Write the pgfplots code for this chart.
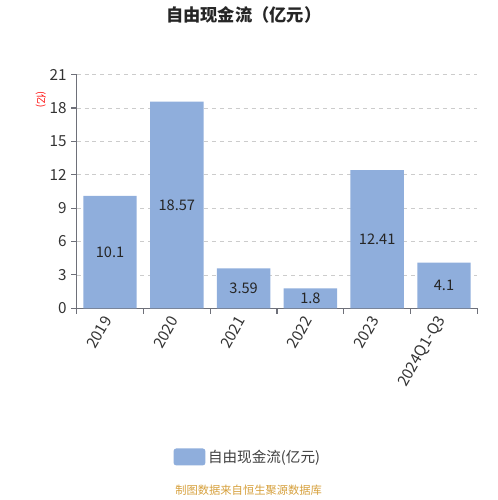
\documentclass[border=0pt]{standalone}
\usepackage{pgfplots}
\pgfplotsset{compat=1.18}
\usepackage{fontspec}
\setmainfont{Noto Sans CJK SC}
\definecolor{barblue}{RGB}{143,174,220}
\definecolor{axisgray}{RGB}{110,112,121}
\definecolor{gridgray}{RGB}{204,204,204}
\definecolor{srcorange}{RGB}{214,160,60}
\begin{document}
\begin{tikzpicture}[x=0.75pt,y=0.75pt]
  % page frame: 500x500 px
  \path (0,0) rectangle (500,500);
  \node[font=\bfseries\fontsize{13}{15}\selectfont, text=black!85] at (245,485) {自由现金流（亿元）};
  \node[text=red, rotate=-90, font=\fontsize{7.5}{9}\selectfont] at (41,400) {(亿)};
  \node[text=srcorange, font=\fontsize{8.5}{10}\selectfont] at (250,7) {制图数据来自恒生聚源数据库};
  \begin{axis}[
    at={(57.75pt,142.5pt)}, anchor=south west,
    scale only axis,
    width=302.25pt, height=176.25pt,
    xmin=-0.5, xmax=5.5,
    ymin=0, ymax=21,
    ytick={0,3,...,21},
    xtick={0,1,...,5},
    xticklabels={2019,2020,2021,2022,2023,2024Q1-Q3},
    minor xtick={-0.5,0.5,...,5.5},
    major x tick style={draw=none},
    minor tick length=4pt,
    major tick length=4pt,
    tick align=outside,
    tick pos=left,
    axis x line*=bottom,
    axis y line*=left,
    axis line style={axisgray, line width=0.8pt},
    tick style={axisgray, line width=0.8pt},
    ymajorgrids,
    grid style={gridgray, dashed, line width=0.6pt},
    /pgf/number format/assume math mode=true,
    tick label style={font=\fontsize{11.5}{13}\selectfont, text=black!80},
    x tick label style={rotate=60, anchor=east},
    ybar, bar width=0.8,
    bar shift=0pt,
    nodes near coords,
    visualization depends on={y/2 \as \half},
    every node near coord/.append style={anchor=center,
      shift={(axis direction cs:0,-\half)},
      font=\fontsize{11}{13}\selectfont, text=black!85},
    point meta=explicit symbolic,
    legend style={at={(0.428,-0.638)}, anchor=center, draw=none,
      font=\fontsize{11}{13}\selectfont, text=black!75},
    legend image code/.code={\fill[barblue, rounded corners=2pt] (0pt,-6pt) rectangle (24pt,6.75pt);},
  ]
    \addplot[fill=barblue, draw=none] coordinates {
      (0,10.1)[10.1] (1,18.57)[18.57] (2,3.59)[3.59]
      (3,1.8)[1.8] (4,12.41)[12.41] (5,4.1)[4.1]};
    \addlegendentry{自由现金流(亿元)}
  \end{axis}
\end{tikzpicture}
\end{document}
